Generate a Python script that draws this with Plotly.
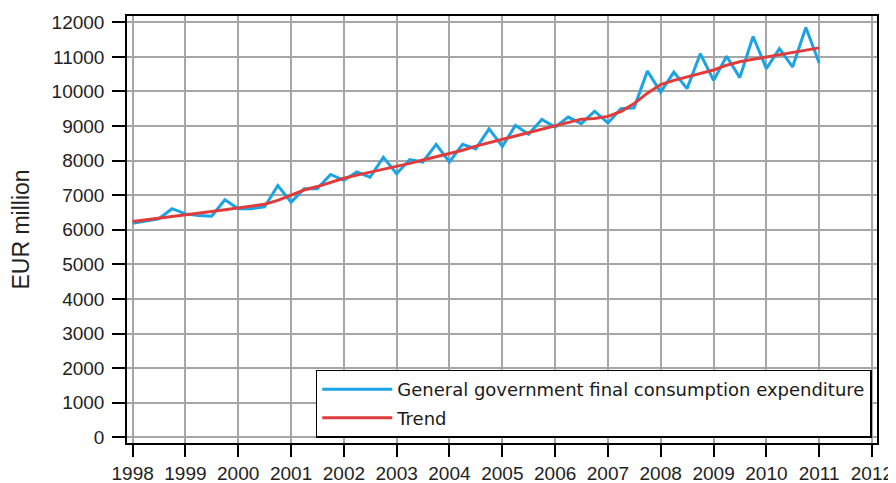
import plotly.graph_objects as go

years = list(range(1998, 2012))
quarters = [f"{y}-{m:02d}-01" for y in range(1998, 2011) for m in (1, 4, 7, 10)] + ["2011-01-01"]

expenditure = [
    6190, 6250, 6320, 6610,
    6460, 6410, 6390, 6870,
    6610, 6610, 6660, 7280,
    6800, 7190, 7190, 7600,
    7430, 7670, 7520, 8100,
    7620, 8030, 7960, 8470,
    7960, 8470, 8340, 8920,
    8410, 9020, 8760, 9190,
    8970, 9260, 9070, 9430,
    9090, 9500, 9530, 10590,
    9980, 10560, 10080, 11090,
    10320, 11020, 10400, 11590,
    10660, 11240, 10710, 11850,
    10820,
]

trend = [
    6240, 6290, 6340, 6400,
    6440, 6480, 6530, 6580,
    6630, 6680, 6740, 6850,
    7000, 7150, 7250, 7380,
    7490, 7580, 7660, 7740,
    7830, 7920, 8020, 8110,
    8200, 8300, 8420, 8520,
    8620, 8720, 8820, 8920,
    9020, 9120, 9200, 9220,
    9280, 9420, 9650, 9950,
    10200, 10320, 10420, 10500,
    10620, 10760, 10860, 10930,
    11000, 11060, 11120, 11190,
    11260,
]

series_names = ["General government final consumption expenditure", "Trend"]
y_title = "EUR million"

fig = go.Figure()
fig.add_trace(go.Scatter(x=quarters, y=expenditure, mode="lines", name=series_names[0],
                         line=dict(color="#1ba3e3", width=3), legendgroup="a"))
fig.add_trace(go.Scatter(x=quarters, y=trend, mode="lines", name=series_names[1],
                         line=dict(color="#e03c3c", width=3), legendgroup="b"))

tick_font = dict(family="Liberation Sans, Arial, sans-serif", size=19, color="#222222")

# the page body adds an 8px offset; the figure is sized to fill the rest of the window
fig.update_layout(
    width=888, height=475,
    margin=dict(l=119, r=19, t=8, b=40, autoexpand=False),
    paper_bgcolor="white", plot_bgcolor="white",
    showlegend=True,
    legend=dict(
        x=0.993, xanchor="right", y=0.0126, yanchor="bottom",
        bordercolor="black", borderwidth=1.5, bgcolor="white",
        font=dict(family="DejaVu Sans, sans-serif", size=18, color="#1a1a1a"),
        itemwidth=70, tracegroupgap=2, traceorder="grouped",
    ),
    xaxis=dict(
        type="date",
        range=["1997-11-23", "2012-02-05"],
        tickvals=[f"{y}-01-01" for y in years + [2012]],
        ticktext=[str(y) for y in years + [2012]],
        showgrid=True, gridcolor="#a6a6a6", gridwidth=1.5,
        showline=True, linecolor="black", linewidth=1.5, mirror=True,
        ticks="outside", ticklen=12, tickcolor="black", tickwidth=1.5,
        tickfont=tick_font,
    ),
    yaxis=dict(
        range=[-165, 12182],
        tick0=0, dtick=1000, tickformat="d",
        showgrid=True, gridcolor="#a6a6a6", gridwidth=1.5,
        zeroline=False,
        showline=True, linecolor="black", linewidth=1.5, mirror=True,
        ticks="outside", ticklen=13, tickcolor="black", tickwidth=1.5,
        tickfont=tick_font, ticklabelstandoff=4,
        title=dict(text=y_title, standoff=16,
                   font=dict(family="Liberation Sans, Arial, sans-serif", size=23, color="#222222")),
    ),
)

fig.write_html("out.html")
